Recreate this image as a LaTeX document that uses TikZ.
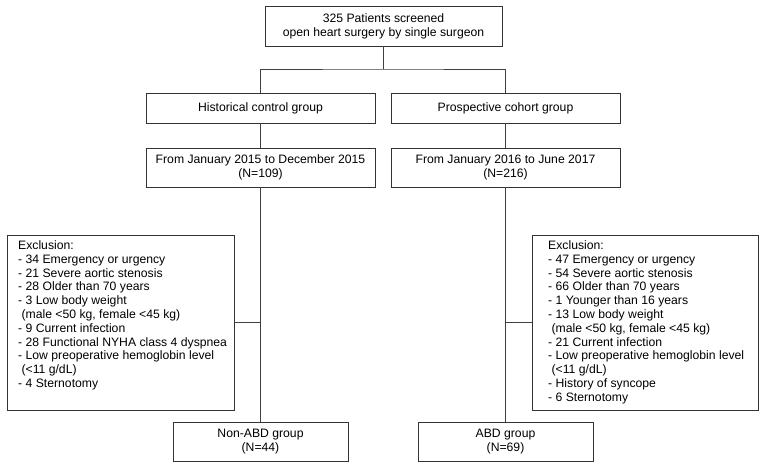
\documentclass[tikz,border=0pt]{standalone}
\usepackage{fontspec}
\setmainfont{Liberation Sans}
\begin{document}
\begin{tikzpicture}[x=1pt,y=-1pt,
  box/.style={draw=black!80, line width=0.8pt, inner sep=0pt, align=center,
    font=\fontsize{12.2}{13.8}\selectfont},
  txt/.style={inner sep=0pt, align=left, anchor=north west,
    font=\fontsize{12.2}{13.8}\selectfont},
  conn/.style={draw=black!75, line width=0.8pt}]
\useasboundingbox (0,0) rectangle (766,469);
\node[box, minimum width=237pt, minimum height=40pt] (top) at (383.5,26)
  {325 Patients screened\\open heart surgery by single surgeon};
\node[box, minimum width=229pt, minimum height=30pt] (hist) at (260.5,108)
  {Historical control group};
\node[box, minimum width=229pt, minimum height=30pt] (pros) at (505.5,108)
  {Prospective cohort group};
\node[box, minimum width=229pt, minimum height=39pt] (dateL) at (260.5,167.5)
  {From January 2015 to December 2015\\(N=109)};
\node[box, minimum width=229pt, minimum height=39pt] (dateR) at (505.5,167.5)
  {From January 2016 to June 2017\\(N=216)};
\node[box, minimum width=227pt, minimum height=175pt] (exclL) at (120.5,322.5) {};
\node[box, minimum width=226pt, minimum height=175pt] (exclR) at (645,322.5) {};
\node[txt] (exclLt) at (18,240.5) {Exclusion:\\
- 34 Emergency or urgency\\
- 21 Severe aortic stenosis\\
- 28 Older than 70 years\\
- 3 Low body weight\\
\ (male <50 kg, female <45 kg)\\
- 9 Current infection\\
- 28 Functional NYHA class 4 dyspnea\\
- Low preoperative hemoglobin level\\
\ (<11 g/dL)\\
- 4 Sternotomy};
\node[txt] (exclRt) at (548,240.5) {Exclusion:\\
- 47 Emergency or urgency\\
- 54 Severe aortic stenosis\\
- 66 Older than 70 years\\
- 1 Younger than 16 years\\
- 13 Low body weight\\
\ (male <50 kg, female <45 kg)\\
- 21 Current infection\\
- Low preoperative hemoglobin level\\
\ (<11 g/dL)\\
- History of syncope\\
- 6 Sternotomy};
\node[box, minimum width=175pt, minimum height=39pt] (nonabd) at (260.5,441.5)
  {Non-ABD group\\(N=44)};
\node[box, minimum width=175pt, minimum height=39pt] (abd) at (505.5,441.5)
  {ABD group\\(N=69)};
\coordinate (split) at (383.5,69);
\draw[conn] (top.south) -- (split);
\draw[conn] (hist.north) |- (split) -| (pros.north);
\draw[conn] (hist.south) -- (dateL.north);
\draw[conn] (pros.south) -- (dateR.north);
\draw[conn] (dateL.south) -- (nonabd.north);
\draw[conn] (dateR.south) -- (abd.north);
\draw[conn] (exclL.east) -- (exclL.east -| dateL.south);
\draw[conn] (exclR.west) -- (exclR.west -| dateR.south);
\end{tikzpicture}
\end{document}
